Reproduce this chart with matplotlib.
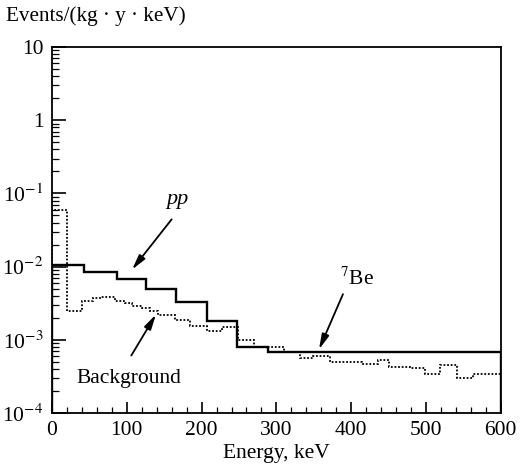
import matplotlib
matplotlib.use("Agg")
import matplotlib.pyplot as plt
from matplotlib.ticker import FixedLocator, LogLocator, MultipleLocator, NullFormatter

plt.rcParams['font.family'] = ['Liberation Serif', 'DejaVu Serif']
plt.rcParams['mathtext.fontset'] = 'stix'

# pp neutrino signal (solid histogram)
pp_edges = [0, 43, 87, 126, 166, 207, 248, 289, 600]
pp_values = [0.0105, 0.0084, 0.0067, 0.0049, 0.0033, 0.0018, 0.00079, 0.00068]

# Background (dotted histogram)
bg_edges = [0, 20, 40, 55, 65, 84, 98, 107, 120, 131, 142, 164, 184, 207, 227,
            249, 270, 310, 332, 349, 372, 415, 436, 450, 479, 499, 519, 541, 563, 600]
bg_values = [0.060, 0.0025, 0.0034, 0.0037, 0.0039, 0.0034, 0.0032, 0.0029, 0.0027,
             0.0025, 0.0022, 0.00184, 0.00153, 0.00133, 0.0015, 0.0010, 0.00079,
             0.00068, 0.00056, 0.00060, 0.00049, 0.00046, 0.00053, 0.00043, 0.00041,
             0.00034, 0.00045, 0.00030, 0.00034]

x_ticks = [0, 100, 200, 300, 400, 500, 600]
y_ticks = [1e-4, 1e-3, 1e-2, 1e-1, 1, 10]
y_tick_labels = [r'10$^{-4}$', r'10$^{-3}$', r'10$^{-2}$', r'10$^{-1}$', '1', '10']

fig = plt.figure(figsize=(5.2, 4.74), dpi=100)
ax = fig.add_axes([0.1, 0.1287, 0.863, 0.772])

ax.stairs(bg_values, bg_edges, color='black', linestyle=(0, (1, 1)), linewidth=1.3)
ax.stairs(pp_values, pp_edges, color='black', linestyle='-', linewidth=1.7)

ax.set_yscale('log')
ax.set_xlim(0, 600)
ax.set_ylim(1e-4, 10)

ax.xaxis.set_major_locator(FixedLocator(x_ticks))
ax.xaxis.set_minor_locator(MultipleLocator(20))
ax.yaxis.set_major_locator(FixedLocator(y_ticks))
ax.set_yticklabels(y_tick_labels)
ax.yaxis.set_minor_locator(LogLocator(base=10, subs=range(2, 10)))
ax.yaxis.set_minor_formatter(NullFormatter())

ax.tick_params(which='both', direction='in', top=False, right=False, labelsize=15.5)
ax.tick_params(axis='y', which='major', length=10, width=1.2, pad=6)
ax.tick_params(axis='y', which='minor', length=5, width=0.9)
ax.tick_params(axis='x', which='major', length=8, width=1.2, pad=6)
ax.tick_params(axis='x', which='minor', length=4, width=0.9)
for s in ax.spines.values():
    s.set_linewidth(1.3)

ax.set_xlabel('Energy, keV', fontsize=15.5, labelpad=3)
fig.text(0.012, 0.965, 'Events/(kg · y · keV)', fontsize=15.2, ha='left', va='center')

arrow = dict(arrowstyle='-|>,head_length=0.9,head_width=0.22', color='black', lw=1.3,
             shrinkA=0, shrinkB=0)
ax.annotate('', xy=(107, 0.0091), xytext=(160, 0.0443), arrowprops=arrow)
ax.text(168, 0.083, 'pp', fontsize=16, style='italic', ha='center', va='center')

ax.annotate('', xy=(139, 0.00222), xytext=(106, 0.00061), arrowprops=arrow)
ax.text(33, 0.0003, 'Background', fontsize=15.5, ha='left', va='center')

ax.annotate('', xy=(357, 0.00074), xytext=(389, 0.0042), arrowprops=arrow)
ax.text(408, 0.0069, r'$^{7}$Be', fontsize=15.5, ha='center', va='center')

fig.savefig('out.png', dpi=100)
